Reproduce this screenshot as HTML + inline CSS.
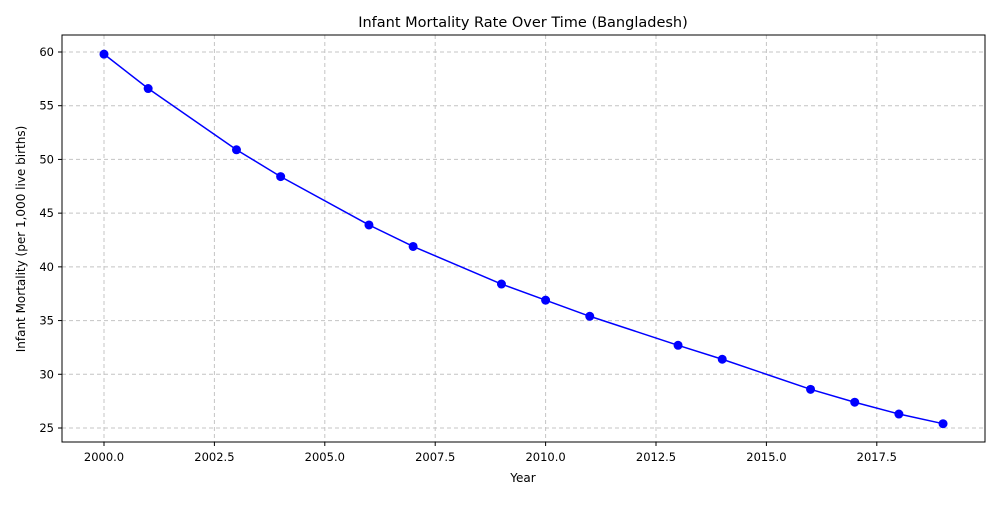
<!DOCTYPE html>
<html><head><meta charset="utf-8"><style>
body{margin:0;background:#fff;font-family:"Liberation Sans","DejaVu Sans",sans-serif;}
svg text{font-family:"DejaVu Sans","Liberation Sans",sans-serif;}
</style></head><body>
<svg id="chart" width="1000" height="500" xmlns="http://www.w3.org/2000/svg">
<rect width="1000" height="500" fill="#fff"/>
<g id="grid"></g><g id="ticks"></g><g id="series"></g>
<rect x="62" y="35" width="923" height="407" fill="none" stroke="#000" stroke-width="1"/>
<text x="523" y="27" text-anchor="middle" font-size="14.5">Infant Mortality Rate Over Time (Bangladesh)</text>
<text x="523" y="482" text-anchor="middle" font-size="12">Year</text>
<text transform="translate(25,239) rotate(-90)" text-anchor="middle" font-size="12">Infant Mortality (per 1,000 live births)</text>
</svg>
<script>
const years=[2000,2001,2003,2004,2006,2007,2009,2010,2011,2013,2014,2016,2017,2018,2019];
const rates=[59.8,56.6,50.9,48.4,43.9,41.9,38.4,36.9,35.4,32.7,31.4,28.6,27.4,26.3,25.4];
const xTicks=[2000,2002.5,2005,2007.5,2010,2012.5,2015,2017.5];
const yTicks=[25,30,35,40,45,50,55,60];
const NS="http://www.w3.org/2000/svg";
const x=v=>104+(v-2000)*44.16;
const y=v=>428-(v-25)*10.743;
function mk(t,a,p){const e=document.createElementNS(NS,t);for(const k in a)e.setAttribute(k,a[k]);p.appendChild(e);return e;}
const G=document.getElementById('grid'),T=document.getElementById('ticks'),S=document.getElementById('series');
xTicks.forEach(v=>{
 const l=mk('line',{x1:x(v),x2:x(v),y1:35,y2:442,stroke:'#c4c4c4','stroke-dasharray':'4,3'},G);
 
 
 mk('line',{x1:x(v),x2:x(v),y1:442,y2:446,stroke:'#000'},T);
 const t=mk('text',{x:x(v),y:461,'text-anchor':'middle','font-size':'11.5'},T);t.textContent=v.toFixed(1);
 
 
});
yTicks.forEach(v=>{
 const l=mk('line',{x1:62,x2:985,y1:y(v),y2:y(v),stroke:'#c4c4c4','stroke-dasharray':'4,3'},G);
 
 
 mk('line',{x1:58,x2:62,y1:y(v),y2:y(v),stroke:'#000'},T);
 const t=mk('text',{x:54,y:y(v)+4,'text-anchor':'end','font-size':'11.5'},T);t.textContent=v;
 
 
});
const pl=mk('polyline',{points:years.map((yr,i)=>x(yr)+','+y(rates[i])).join(' '),fill:'none',stroke:'#0000ff','stroke-width':'1.5'},S);


years.forEach((yr,i)=>{
 const c=mk('circle',{cx:x(yr),cy:y(rates[i]),r:4.5,fill:'#0000ff'},S);
 
 
});
</script>
</body></html>
